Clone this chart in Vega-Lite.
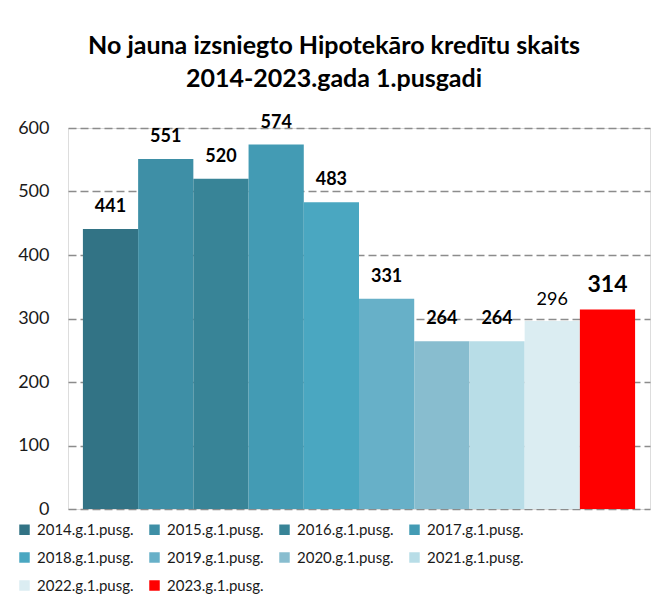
{
  "$schema": "https://vega.github.io/schema/vega-lite/v6.json",
  "width": 582,
  "height": 381,
  "autosize": {"type": "none"},
  "padding": {"left": 68, "top": 128, "right": 2, "bottom": 94},
  "background": "#ffffff",
  "title": {
    "text": ["No jauna izsniegto Hipotekāro kredītu skaits", "2014-2023.gada 1.pusgadi"],
    "font": "Lato",
    "fontSize": 25,
    "fontWeight": "bold",
    "color": "#000000",
    "lineHeight": 33,
    "anchor": "middle",
    "frame": "group",
    "dx": -25,
    "offset": 22
  },
  "data": {
    "values": [
      {"label": "2014.g.1.pusg.", "value": 441},
      {"label": "2015.g.1.pusg.", "value": 551},
      {"label": "2016.g.1.pusg.", "value": 520},
      {"label": "2017.g.1.pusg.", "value": 574},
      {"label": "2018.g.1.pusg.", "value": 483},
      {"label": "2019.g.1.pusg.", "value": 331},
      {"label": "2020.g.1.pusg.", "value": 264},
      {"label": "2021.g.1.pusg.", "value": 264},
      {"label": "2022.g.1.pusg.", "value": 296},
      {"label": "2023.g.1.pusg.", "value": 314}
    ]
  },
  "encoding": {
    "x": {
      "field": "label",
      "type": "nominal",
      "sort": null,
      "axis": null,
      "scale": {"paddingInner": 0, "paddingOuter": 0.27}
    },
    "y": {
      "field": "value",
      "type": "quantitative",
      "scale": {"domain": [0, 600], "nice": false},
      "axis": {
        "title": null,
        "values": [0, 100, 200, 300, 400, 500, 600],
        "labelFont": "Lato",
        "labelFontSize": 18,
        "labelColor": "#1a1a1a",
        "labelPadding": 19,
        "ticks": false,
        "domain": false,
        "grid": true,
        "gridColor": "#8c8c8c",
        "gridDash": [8, 4],
        "gridWidth": 1.6
      }
    }
  },
  "layer": [
    {
      "mark": {"type": "bar"},
      "encoding": {
        "color": {
          "field": "label",
          "type": "nominal",
          "sort": null,
          "scale": {
            "domain": ["2014.g.1.pusg.", "2015.g.1.pusg.", "2016.g.1.pusg.", "2017.g.1.pusg.", "2018.g.1.pusg.", "2019.g.1.pusg.", "2020.g.1.pusg.", "2021.g.1.pusg.", "2022.g.1.pusg.", "2023.g.1.pusg."],
            "range": ["#327385", "#3e8fa6", "#388497", "#439bb4", "#4aa7c1", "#67b0c8", "#88bdcf", "#b8dde7", "#dbedf2", "#ff0000"]
          },
          "legend": {
            "title": null,
            "orient": "none",
            "legendX": -51,
            "legendY": 394,
            "direction": "horizontal",
            "columns": 4,
            "symbolType": "square",
            "symbolSize": 110,
            "symbolStrokeWidth": 0,
            "symbolOffset": 0,
            "labelFont": "Lato",
            "labelFontSize": 15,
            "labelColor": "#1a1a1a",
            "labelOffset": 5,
            "columnPadding": 13,
            "rowPadding": 12
          }
        }
      }
    },
    {
      "transform": [{"filter": "datum.label !== '2022.g.1.pusg.' && datum.label !== '2023.g.1.pusg.'"}],
      "mark": {"type": "text", "baseline": "alphabetic", "dy": -17, "font": "Lato", "fontSize": 18, "fontWeight": "bold", "color": "#000000"},
      "encoding": {"text": {"field": "value", "type": "quantitative"}}
    },
    {
      "transform": [{"filter": "datum.label === '2022.g.1.pusg.'"}],
      "mark": {"type": "text", "baseline": "alphabetic", "dy": -16, "font": "Lato", "fontSize": 18, "fontWeight": "normal", "color": "#000000"},
      "encoding": {"text": {"field": "value", "type": "quantitative"}}
    },
    {
      "transform": [{"filter": "datum.label === '2023.g.1.pusg.'"}],
      "mark": {"type": "text", "baseline": "alphabetic", "dy": -18, "font": "Lato", "fontSize": 23, "fontWeight": "bold", "color": "#000000"},
      "encoding": {"text": {"field": "value", "type": "quantitative"}}
    }
  ]
}
